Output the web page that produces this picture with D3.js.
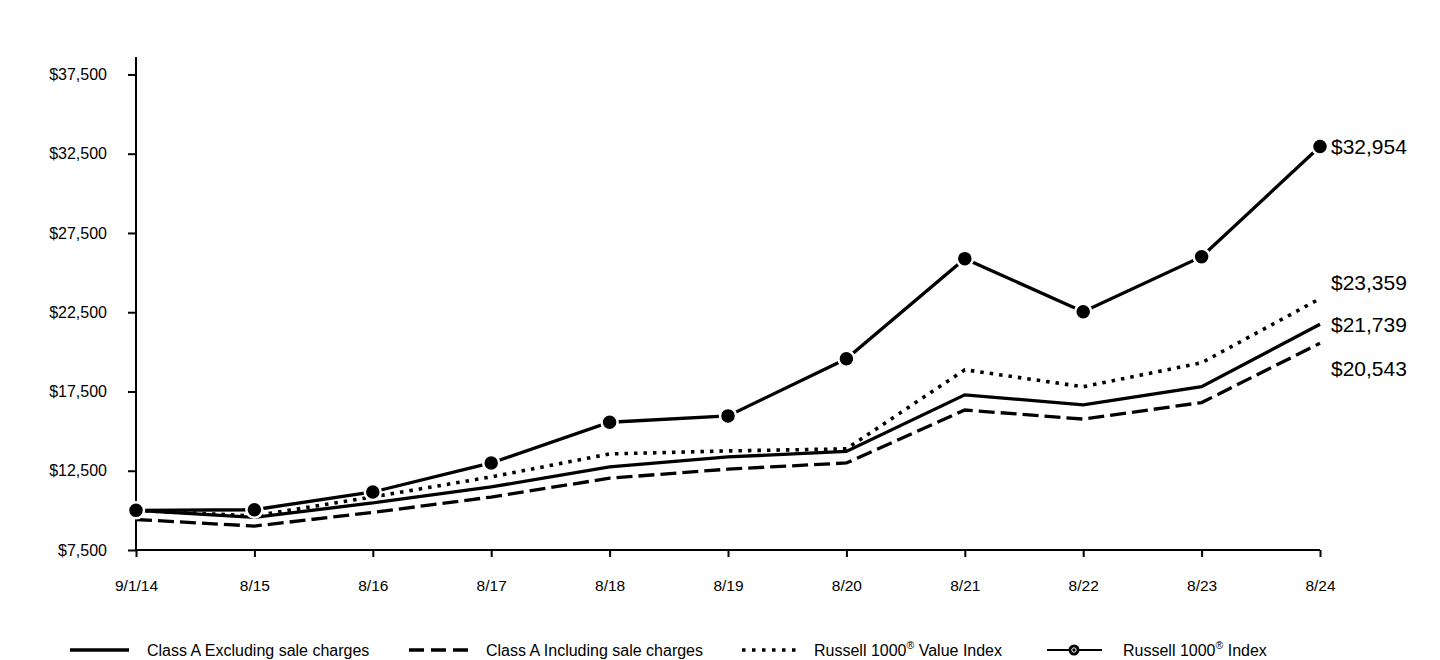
<!DOCTYPE html>
<html>
<head>
<meta charset="utf-8">
<script src="https://cdn.jsdelivr.net/npm/d3@7"></script>
<style>
  html, body { margin: 0; padding: 0; background: #fff; }
  svg { display: block; font-family: "Liberation Sans", Arial, sans-serif; }
</style>
</head>
<body>
<svg id="chart" width="1440" height="660"></svg>
<script>
// ---- data ----
const dates = ["9/1/14", "8/15", "8/16", "8/17", "8/18", "8/19", "8/20", "8/21", "8/22", "8/23", "8/24"];
const classAExcl = [10000, 9560, 10470, 11480, 12740, 13370, 13720, 17290, 16660, 17800, 21739];
const classAIncl = [9425, 9010, 9870, 10840, 12030, 12600, 12990, 16330, 15760, 16800, 20543];
const russellValue = [10000, 9650, 10850, 12110, 13560, 13750, 13880, 18870, 17800, 19310, 23359];
const russell1000 = [10000, 10040, 11160, 12990, 15560, 15960, 19560, 25880, 22530, 26000, 32954];
const yTicks = [7500, 12500, 17500, 22500, 27500, 32500, 37500];

const svg = d3.select("#chart");

const x = d3.scalePoint().domain(dates).range([136, 1320]);
const y = d3.scaleLinear().domain([7500, 38600]).range([550, 57]);

const fmt = v => "$" + d3.format(",")(v);

// y axis
const yAxis = svg.append("g").attr("transform", "translate(136,0)")
  .call(d3.axisLeft(y).tickValues(yTicks).tickFormat(fmt).tickSize(8).tickPadding(21));
yAxis.select(".domain").attr("stroke", "#000").attr("stroke-width", 2).attr("d", `M0,${y(7500)}V${y(38600)}`);
yAxis.selectAll(".tick line").attr("stroke", "#000").attr("stroke-width", 2);
yAxis.selectAll(".tick text").attr("fill", "#000").style("font-size", "16px").attr("font-family", null);

// x axis
const xAxis = svg.append("g").attr("transform", `translate(0,${y(7500)})`)
  .call(d3.axisBottom(x).tickSize(7).tickPadding(23));
xAxis.select(".domain").attr("stroke", "#000").attr("stroke-width", 2).attr("d", `M${x(dates[0])},0H${x(dates[dates.length-1])}`);
xAxis.selectAll(".tick line").attr("stroke", "#000").attr("stroke-width", 2);
xAxis.selectAll(".tick text").attr("fill", "#000").style("font-size", "15.5px").attr("font-family", null);

const line = d3.line().x((d, i) => x(dates[i])).y(d => y(d));

const series = [
  { name: "incl", values: classAIncl, dash: "16,6", width: 3.3 },
  { name: "excl", values: classAExcl, dash: null, width: 3.3 },
  { name: "value", values: russellValue, dash: "3.5,6", width: 3.6 },
  { name: "r1000", values: russell1000, dash: null, width: 3.3 }
];

series.forEach(s => {
  svg.append("path")
    .datum(s.values)
    .attr("fill", "none")
    .attr("stroke", "#000")
    .attr("stroke-width", s.width)
    .attr("stroke-dasharray", s.dash)
    .attr("d", line);
});

// markers for Russell 1000
svg.append("g").selectAll("circle")
  .data(russell1000)
  .join("circle")
  .attr("cx", (d, i) => x(dates[i]))
  .attr("cy", d => y(d))
  .attr("r", 8)
  .attr("fill", "#000")
  .attr("stroke", "#fff")
  .attr("stroke-width", 2.5);

// end labels
const last = dates[dates.length - 1];
const endLabels = [
  { v: russell1000[russell1000.length - 1], dy: 0 },
  { v: russellValue[russellValue.length - 1], dy: -16 },
  { v: classAExcl[classAExcl.length - 1], dy: 0 },
  { v: classAIncl[classAIncl.length - 1], dy: 25 }
];
svg.append("g").selectAll("text")
  .data(endLabels)
  .join("text")
  .attr("x", x(last) + 11)
  .attr("y", d => y(d.v) + d.dy)
  .attr("dy", "0.35em")
  .attr("fill", "#000")
  .style("font-size", "21px")
  .text(d => fmt(d.v));

// legend
const lg = svg.append("g").attr("transform", "translate(0,650)");
function legendText(xPos, parts) {
  const t = lg.append("text").attr("x", xPos).attr("y", 0).attr("dy", "0.35em")
    .attr("fill", "#000").style("font-size", "16px");
  let shift = 0;
  parts.forEach(p => {
    const ts = t.append("tspan").text(p.t);
    if (p.sup) {
      ts.attr("dy", "-7").style("font-size", "10.5px");
      shift = 7;
    } else if (shift) {
      ts.attr("dy", shift);
      shift = 0;
    }
  });
  return t;
}
// solid
lg.append("line").attr("x1", 70).attr("x2", 129).attr("stroke", "#000").attr("stroke-width", 3.5);
legendText(147, [{ t: "Class A Excluding sale charges" }]);
// dashed
lg.append("line").attr("x1", 409).attr("x2", 468).attr("stroke", "#000").attr("stroke-width", 3.5).attr("stroke-dasharray", "15,7");
legendText(486, [{ t: "Class A Including sale charges" }]);
// dotted
lg.append("line").attr("x1", 742).attr("x2", 796).attr("stroke", "#000").attr("stroke-width", 3.5).attr("stroke-dasharray", "3.5,6.5");
legendText(814, [{ t: "Russell 1000" }, { t: "®", sup: true }, { t: " Value Index" }]);
// marker line
lg.append("line").attr("x1", 1047).attr("x2", 1102).attr("stroke", "#000").attr("stroke-width", 2);
lg.append("circle").attr("cx", 1074).attr("cy", 0).attr("r", 5.5).attr("fill", "#000");
lg.append("circle").attr("cx", 1074).attr("cy", 0).attr("r", 2.2).attr("fill", "#000").attr("stroke", "#fff").attr("stroke-width", 1);
legendText(1123, [{ t: "Russell 1000" }, { t: "®", sup: true }, { t: " Index" }]);
</script>
</body>
</html>
